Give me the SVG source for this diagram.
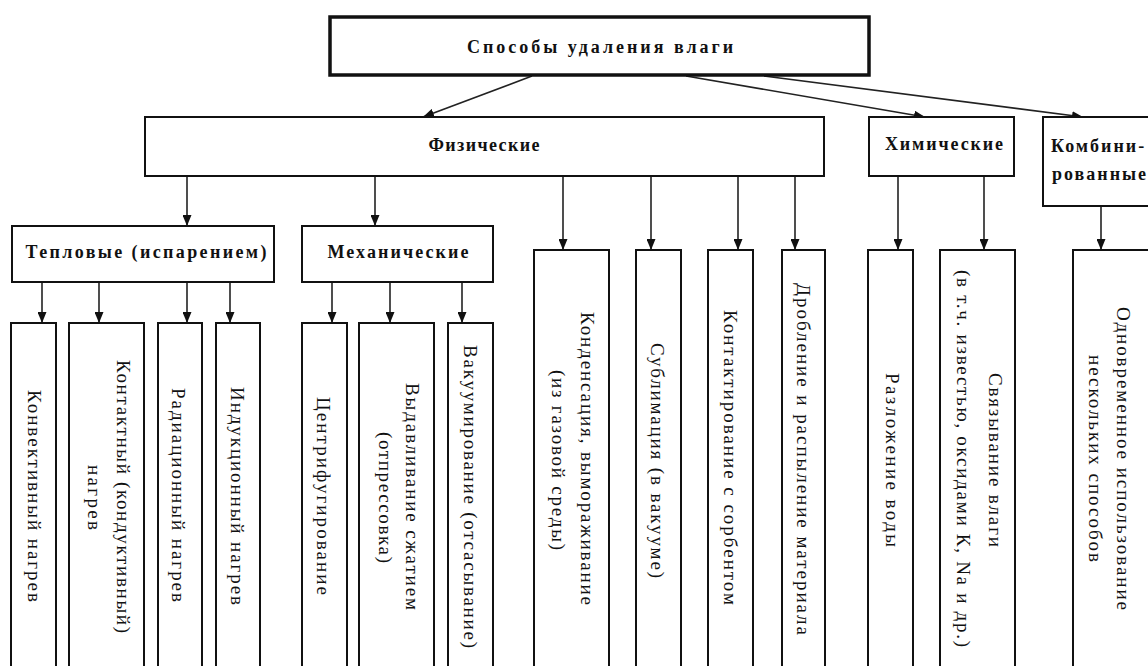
<svg xmlns="http://www.w3.org/2000/svg" width="1148" height="666" viewBox="0 0 1148 666">
<style>
.box{fill:#fff;stroke:#111;stroke-width:2}
.top{fill:#fff;stroke:#111;stroke-width:3.5}
.h{font-family:"Liberation Serif","DejaVu Serif",serif;font-weight:bold;font-size:18px;fill:#111;text-anchor:middle;dominant-baseline:central}
.hl{font-family:"Liberation Serif","DejaVu Serif",serif;font-weight:bold;font-size:18px;letter-spacing:2px;fill:#111;dominant-baseline:central}
.v{font-family:"Liberation Serif","DejaVu Serif",serif;font-size:19px;fill:#111;text-anchor:middle;dominant-baseline:central}
.c{stroke:#222;stroke-width:1.6;fill:none;marker-end:url(#ah)}
</style>
<defs>
<marker id="ah" markerUnits="userSpaceOnUse" markerWidth="11" markerHeight="9" refX="11" refY="4.5" orient="auto">
<path d="M0,0 L11,4.5 L0,9 z" fill="#111"/>
</marker>
</defs>
<rect width="1148" height="666" fill="#fff"/>

<g id="connectors">
<line class="c" x1="532" y1="76" x2="423" y2="117"/>
<line class="c" x1="686" y1="76" x2="925" y2="117"/>
<line class="c" x1="764" y1="76" x2="1083" y2="117"/>
<line class="c" x1="187" y1="176" x2="187" y2="226"/>
<line class="c" x1="375" y1="176" x2="375" y2="226"/>
<line class="c" x1="42" y1="282" x2="42" y2="323"/>
<line class="c" x1="99" y1="282" x2="99" y2="323"/>
<line class="c" x1="187" y1="282" x2="187" y2="323"/>
<line class="c" x1="230" y1="282" x2="230" y2="323"/>
<line class="c" x1="332" y1="282" x2="332" y2="323"/>
<line class="c" x1="390" y1="282" x2="390" y2="323"/>
<line class="c" x1="462" y1="282" x2="462" y2="323"/>
<line class="c" x1="563" y1="176" x2="563" y2="250"/>
<line class="c" x1="651" y1="176" x2="651" y2="250"/>
<line class="c" x1="738" y1="176" x2="738" y2="250"/>
<line class="c" x1="795" y1="176" x2="795" y2="250"/>
<line class="c" x1="898" y1="176" x2="898" y2="250"/>
<line class="c" x1="984" y1="176" x2="984" y2="250"/>
<line class="c" x1="1101" y1="206" x2="1101" y2="250"/>
</g>

<g id="root">
<rect class="top" x="330" y="17" width="539" height="58"/>
<text class="h" x="600" y="47" textLength="266" lengthAdjust="spacing">Способы удаления влаги</text>
</g>

<g id="physical">
<rect class="box" x="145" y="117" width="679" height="59"/>
<text class="h" x="484" y="145" textLength="111" lengthAdjust="spacing">Физические</text>
</g>
<g id="chemical">
<rect class="box" x="869" y="117" width="145" height="59"/>
<text class="h" x="944" y="144" textLength="118" lengthAdjust="spacing">Химические</text>
</g>
<g id="combined">
<rect class="box" x="1043" y="117" width="120" height="89"/>
<text class="hl" x="1051" y="146">Комбини-</text>
<text class="hl" x="1052" y="174">рованные</text>
</g>

<g id="thermal">
<rect class="box" x="12" y="226" width="262" height="56"/>
<text class="h" x="146" y="252" textLength="241" lengthAdjust="spacing">Тепловые (испарением)</text>
</g>
<g id="mechanical">
<rect class="box" x="302" y="226" width="191" height="56"/>
<text class="h" x="398" y="252" textLength="141" lengthAdjust="spacing">Механические</text>
</g>

<g id="convective">
<rect class="box" x="11" y="323" width="45" height="360"/>
<text class="v" transform="translate(34,496) rotate(90)" textLength="212" lengthAdjust="spacing">Конвективный нагрев</text>
</g>
<g id="contact">
<rect class="box" x="69" y="323" width="75" height="360"/>
<text class="v" transform="translate(123,496.5) rotate(90)" textLength="273" lengthAdjust="spacing">Контактный (кондуктивный)</text>
<text class="v" transform="translate(94,497.5) rotate(90)" textLength="65" lengthAdjust="spacing">нагрев</text>
</g>
<g id="radiation">
<rect class="box" x="158" y="323" width="44" height="360"/>
<text class="v" transform="translate(178,495) rotate(90)" textLength="214" lengthAdjust="spacing">Радиационный нагрев</text>
</g>
<g id="induction">
<rect class="box" x="216" y="323" width="44" height="360"/>
<text class="v" transform="translate(237,496) rotate(90)" textLength="218" lengthAdjust="spacing">Индукционный нагрев</text>
</g>

<g id="centrifuge">
<rect class="box" x="302" y="323" width="45" height="360"/>
<text class="v" transform="translate(323,496) rotate(90)" textLength="198" lengthAdjust="spacing">Центрифугирование</text>
</g>
<g id="pressing">
<rect class="box" x="359" y="323" width="75" height="360"/>
<text class="v" transform="translate(412,496.5) rotate(90)" textLength="227" lengthAdjust="spacing">Выдавливание сжатием</text>
<text class="v" transform="translate(385,497.5) rotate(90)" textLength="131" lengthAdjust="spacing">(отпрессовка)</text>
</g>
<g id="vacuum">
<rect class="box" x="448" y="323" width="45" height="360"/>
<text class="v" transform="translate(470,496.5) rotate(90)" textLength="303" lengthAdjust="spacing">Вакуумирование (отсасывание)</text>
</g>

<g id="condensation">
<rect class="box" x="534" y="250" width="75" height="430"/>
<text class="v" transform="translate(587,458.5) rotate(90)" textLength="293" lengthAdjust="spacing">Конденсация, вымораживание</text>
<text class="v" transform="translate(558,460) rotate(90)" textLength="180" lengthAdjust="spacing">(из газовой среды)</text>
</g>
<g id="sublimation">
<rect class="box" x="636" y="250" width="45" height="430"/>
<text class="v" transform="translate(657,460.5) rotate(90)" textLength="235" lengthAdjust="spacing">Сублимация (в вакууме)</text>
</g>
<g id="sorbent">
<rect class="box" x="708" y="250" width="45" height="430"/>
<text class="v" transform="translate(730,457.5) rotate(90)" textLength="295" lengthAdjust="spacing">Контактирование с сорбентом</text>
</g>
<g id="crushing">
<rect class="box" x="782" y="250" width="43" height="430"/>
<text class="v" transform="translate(803,459) rotate(90)" textLength="352" lengthAdjust="spacing">Дробление и распыление материала</text>
</g>

<g id="decomposition">
<rect class="box" x="868" y="250" width="45" height="430"/>
<text class="v" transform="translate(892,460) rotate(90)" textLength="174" lengthAdjust="spacing">Разложение воды</text>
</g>
<g id="binding">
<rect class="box" x="940" y="250" width="75" height="430"/>
<text class="v" transform="translate(995,460) rotate(90)" textLength="174" lengthAdjust="spacing">Связывание влаги</text>
<text class="v" transform="translate(963,458.5) rotate(90)" textLength="377" lengthAdjust="spacing">(в т.ч. известью, оксидами К, Na и др.)</text>
</g>
<g id="simultaneous">
<rect class="box" x="1073" y="250" width="90" height="430"/>
<text class="v" transform="translate(1123,458.5) rotate(90)" textLength="303" lengthAdjust="spacing">Одновременное использование</text>
<text class="v" transform="translate(1095,458.5) rotate(90)" textLength="207" lengthAdjust="spacing">нескольких способов</text>
</g>
</svg>
